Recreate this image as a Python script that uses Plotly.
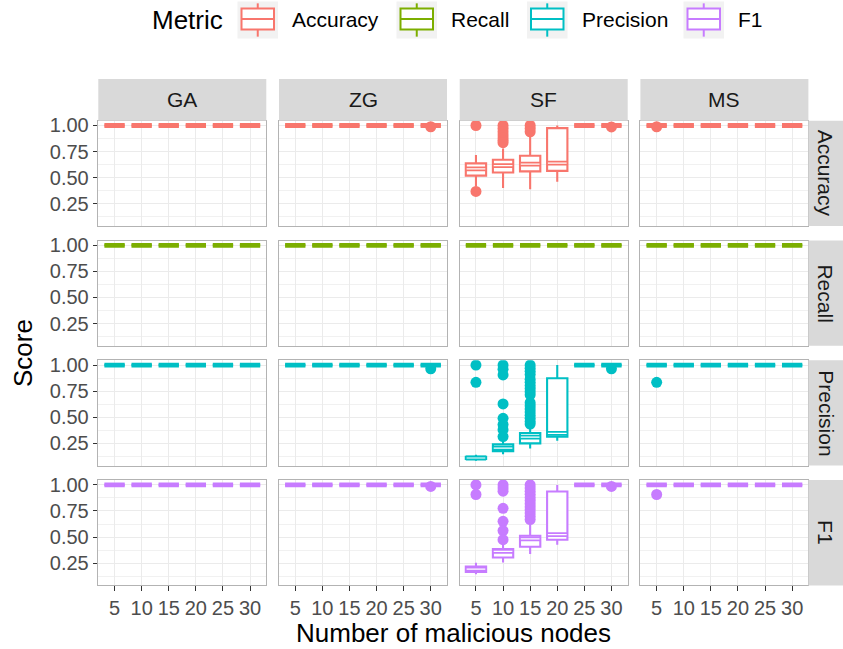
import plotly.graph_objects as go
from plotly.subplots import make_subplots

W, H = 843, 649

# ---------------------------------------------------------------- data
nodes = [5, 10, 15, 20, 25, 30]
node_labels = [str(n) for n in nodes]
methods = ["GA", "ZG", "SF", "MS"]
metrics = ["Accuracy", "Recall", "Precision", "F1"]
metric_colors = ["#F8766D", "#7CAE00", "#00BFC4", "#C77CFF"]
y_tickvals = [0.25, 0.50, 0.75, 1.00]
y_ticktext = ["0.25", "0.50", "0.75", "1.00"]
y_minor = [0.125, 0.375, 0.625, 0.875]

perfect = [1.0, 1.0, 1.0, 1.0, 1.0, 1.0]

# SF box statistics, one value per node count
sf_acc_q1 = [0.520, 0.550, 0.560, 0.565, 1.0, 1.0]
sf_acc_med = [0.585, 0.615, 0.630, 0.640, 1.0, 1.0]
sf_acc_q3 = [0.637, 0.672, 0.710, 0.975, 1.0, 1.0]
sf_acc_lo = [0.415, 0.400, 0.390, 0.460, 1.0, 1.0]
sf_acc_hi = [0.718, 0.780, 0.900, 1.000, 1.0, 1.0]

sf_prec_q1 = [0.100, 0.176, 0.250, 0.315, 1.0, 1.0]
sf_prec_med = [0.110, 0.205, 0.310, 0.345, 1.0, 1.0]
sf_prec_q3 = [0.122, 0.240, 0.350, 0.874, 1.0, 1.0]
sf_prec_lo = [0.083, 0.147, 0.200, 0.275, 1.0, 1.0]
sf_prec_hi = [0.140, 0.285, 0.420, 1.000, 1.0, 1.0]

sf_f1_q1 = [0.167, 0.305, 0.408, 0.475, 1.0, 1.0]
sf_f1_med = [0.193, 0.363, 0.482, 0.523, 1.0, 1.0]
sf_f1_q3 = [0.218, 0.386, 0.513, 0.937, 1.0, 1.0]
sf_f1_lo = [0.145, 0.257, 0.337, 0.427, 1.0, 1.0]
sf_f1_hi = [0.254, 0.427, 0.641, 1.000, 1.0, 1.0]

# outliers as (node count, score)
zg_acc_out = [(30, 0.988)]
zg_prec_out = [(30, 0.965)]
zg_f1_out = [(30, 0.985)]

ms_acc_out = [(5, 0.988)]
ms_prec_out = [(5, 0.835)]
ms_f1_out = [(5, 0.908)]

sf_acc_out = [(5, 1.0), (5, 0.368),
              (10, 1.0), (10, 0.97), (10, 0.94), (10, 0.91), (10, 0.88),
              (10, 0.855), (10, 0.835),
              (15, 1.0), (15, 0.97), (15, 0.94),
              (30, 0.986)]
sf_prec_out = [(5, 1.0), (5, 0.835),
               (10, 1.0), (10, 0.96), (10, 0.906), (10, 0.628), (10, 0.49),
               (10, 0.43), (10, 0.381), (10, 0.315),
               (15, 1.0), (15, 0.97), (15, 0.94), (15, 0.91), (15, 0.865),
               (15, 0.835), (15, 0.805), (15, 0.775), (15, 0.745), (15, 0.715),
               (15, 0.64), (15, 0.61), (15, 0.58), (15, 0.55), (15, 0.52),
               (15, 0.49), (15, 0.46), (15, 0.435),
               (30, 0.965)]
sf_f1_out = [(5, 1.0), (5, 0.908),
             (10, 1.0), (10, 0.97), (10, 0.94), (10, 0.776), (10, 0.651),
             (10, 0.562), (10, 0.475),
             (15, 1.0), (15, 0.97), (15, 0.94), (15, 0.91), (15, 0.88),
             (15, 0.85), (15, 0.82), (15, 0.79), (15, 0.76), (15, 0.73),
             (15, 0.70), (15, 0.668),
             (30, 0.985)]


def box_stats(method, metric):
    if method == "SF" and metric == "Accuracy":
        return sf_acc_q1, sf_acc_med, sf_acc_q3, sf_acc_lo, sf_acc_hi
    if method == "SF" and metric == "Precision":
        return sf_prec_q1, sf_prec_med, sf_prec_q3, sf_prec_lo, sf_prec_hi
    if method == "SF" and metric == "F1":
        return sf_f1_q1, sf_f1_med, sf_f1_q3, sf_f1_lo, sf_f1_hi
    return perfect, perfect, perfect, perfect, perfect


def outliers(method, metric):
    table = {
        ("ZG", "Accuracy"): zg_acc_out, ("ZG", "Precision"): zg_prec_out,
        ("ZG", "F1"): zg_f1_out,
        ("MS", "Accuracy"): ms_acc_out, ("MS", "Precision"): ms_prec_out,
        ("MS", "F1"): ms_f1_out,
        ("SF", "Accuracy"): sf_acc_out, ("SF", "Precision"): sf_prec_out,
        ("SF", "F1"): sf_f1_out,
    }
    return table.get((method, metric), [])


# ---------------------------------------------------------------- geometry (pixels)
panel_left0, panel_w, panel_dx = 98.3, 168.0, 180.7
panel_top0, panel_h, panel_dy = 120.7, 105.3, 119.8
strip_top = 79.0
strip_right_w = 34.6
box_width = 0.75

FONT = "Liberation Sans, Arial, Helvetica, sans-serif"
tick_size = 20
strip_size = 21
big = 26


def fx(px):
    return px / W


def fy(py):
    return 1 - py / H


fig = make_subplots(rows=4, cols=4)

pos = list(range(1, len(nodes) + 1))

# y range shared by all panels, padded by 5% of the data span
all_vals = []
for m in methods:
    for k in metrics:
        st = box_stats(m, k)
        all_vals += st[3] + st[4]
        all_vals += [v for _, v in outliers(m, k)]
dmin, dmax = min(all_vals), max(all_vals)
pad = 0.05 * (dmax - dmin)
y_range = [dmin - pad, dmax + pad]

# boxes
for r, metric in enumerate(metrics):
    color = metric_colors[r]
    for c, method in enumerate(methods):
        q1, med, q3, lo, hi = box_stats(method, metric)
        fig.add_trace(go.Box(
            x=pos, q1=q1, median=med, q3=q3, lowerfence=lo, upperfence=hi,
            width=box_width, whiskerwidth=0, boxpoints=False,
            fillcolor="white", line=dict(color=color, width=2.1),
            showlegend=False, hoverinfo="skip",
        ), row=r + 1, col=c + 1)

# thick median bars drawn over the boxes
for r, metric in enumerate(metrics):
    color = metric_colors[r]
    for c, method in enumerate(methods):
        q1, med, q3, lo, hi = box_stats(method, metric)
        xs, ys, wx, wy = [], [], [], []
        for p, a, m, b in zip(pos, q1, med, q3):
            xs += [p - box_width / 2, p + box_width / 2, None]
            ys += [m, m, None]
            if b > a:
                wx += [p - box_width / 2 + 0.03, p + box_width / 2 - 0.03, None]
                wy += [m, m, None]
        fig.add_trace(go.Scatter(
            x=xs, y=ys, mode="lines", line=dict(color=color, width=4.8),
            showlegend=False, hoverinfo="skip"), row=r + 1, col=c + 1)
        if wx:
            fig.add_trace(go.Scatter(
                x=wx, y=wy, mode="lines", line=dict(color="white", width=1.2),
                showlegend=False, hoverinfo="skip"), row=r + 1, col=c + 1)

# outlier points
for r, metric in enumerate(metrics):
    color = metric_colors[r]
    for c, method in enumerate(methods):
        pts = outliers(method, metric)
        if not pts:
            continue
        fig.add_trace(go.Scatter(
            x=[nodes.index(n) + 1 for n, _ in pts], y=[v for _, v in pts],
            mode="markers", marker=dict(color=color, size=11, line=dict(width=0)),
            showlegend=False, hoverinfo="skip"), row=r + 1, col=c + 1)

# axes
for r in range(4):
    for c in range(4):
        n = r * 4 + c + 1
        xa = "xaxis" if n == 1 else f"xaxis{n}"
        ya = "yaxis" if n == 1 else f"yaxis{n}"
        x0 = panel_left0 + c * panel_dx
        y0 = panel_top0 + r * panel_dy
        fig.layout[xa].update(
            domain=[fx(x0), fx(x0 + panel_w)],
            range=[0.4, len(nodes) + 0.6],
            tickvals=pos, ticktext=node_labels,
            showticklabels=(r == 3), ticks="outside" if r == 3 else "",
            ticklen=4.5, tickwidth=1.1, tickcolor="#333333",
            tickfont=dict(family=FONT, size=tick_size, color="#4d4d4d"),
            showgrid=True, gridcolor="#ebebeb", gridwidth=1.1, zeroline=False,
            showline=True, mirror=True, linecolor="#b3b3b3", linewidth=1.1,
            automargin=False,
        )
        fig.layout[ya].update(
            domain=[fy(y0 + panel_h), fy(y0)],
            range=y_range,
            tickvals=y_tickvals, ticktext=y_ticktext,
            showticklabels=(c == 0), ticks="outside" if c == 0 else "",
            ticklen=4.5, tickwidth=1.1, tickcolor="#333333",
            tickfont=dict(family=FONT, size=tick_size, color="#4d4d4d"),
            showgrid=True, gridcolor="#ebebeb", gridwidth=1.1, zeroline=False,
            showline=True, mirror=True, linecolor="#b3b3b3", linewidth=1.1,
            minor=dict(tickvals=y_minor, showgrid=True, gridcolor="#f1f1f1",
                       gridwidth=0.7, ticks=""),
            automargin=False,
        )

shapes = []
annotations = []

# column strips
for c, method in enumerate(methods):
    x0 = panel_left0 + c * panel_dx
    shapes.append(dict(type="rect", xref="paper", yref="paper",
                       x0=fx(x0), x1=fx(x0 + panel_w), y0=fy(panel_top0), y1=fy(strip_top),
                       fillcolor="#d9d9d9", line=dict(width=0)))
    annotations.append(dict(text=method, xref="paper", yref="paper",
                            x=fx(x0 + panel_w / 2), y=fy((strip_top + panel_top0) / 2),
                            showarrow=False, xanchor="center", yanchor="middle",
                            font=dict(family=FONT, size=strip_size, color="#1a1a1a")))

# row strips
right_edge = panel_left0 + 3 * panel_dx + panel_w
for r, metric in enumerate(metrics):
    y0 = panel_top0 + r * panel_dy
    shapes.append(dict(type="rect", xref="paper", yref="paper",
                       x0=fx(right_edge), x1=fx(right_edge + strip_right_w),
                       y0=fy(y0 + panel_h), y1=fy(y0),
                       fillcolor="#d9d9d9", line=dict(width=0)))
    annotations.append(dict(text=metric, xref="paper", yref="paper",
                            x=fx(right_edge + strip_right_w / 2), y=fy(y0 + panel_h / 2),
                            showarrow=False, textangle=90, xanchor="center", yanchor="middle",
                            font=dict(family=FONT, size=strip_size, color="#1a1a1a")))

# axis titles
annotations.append(dict(text="Score", xref="paper", yref="paper",
                        x=fx(23), y=fy(panel_top0 + (3 * panel_dy + panel_h) / 2),
                        showarrow=False, textangle=-90, xanchor="center", yanchor="middle",
                        font=dict(family=FONT, size=big, color="black")))
annotations.append(dict(text="Number of malicious nodes", xref="paper", yref="paper",
                        x=fx(panel_left0 + (3 * panel_dx + panel_w) / 2), y=fy(633),
                        showarrow=False, xanchor="center", yanchor="middle",
                        font=dict(family=FONT, size=big, color="black")))

# legend drawn across the top
leg_top, leg_bot = 1.5, 38.5
key_w = 40.5
key_lefts = [237.5, 396.5, 527.0, 683.5]
annotations.append(dict(text="Metric", xref="paper", yref="paper",
                        x=fx(150), y=fy((leg_top + leg_bot) / 2),
                        showarrow=False, xanchor="left", yanchor="middle",
                        font=dict(family=FONT, size=big, color="black")))
kh = leg_bot - leg_top
for kl, label, color in zip(key_lefts, metrics, metric_colors):
    cx = kl + key_w / 2
    shapes.append(dict(type="rect", xref="paper", yref="paper",
                       x0=fx(kl), x1=fx(kl + key_w), y0=fy(leg_bot), y1=fy(leg_top),
                       fillcolor="#f2f2f2", line=dict(width=0)))
    shapes.append(dict(type="line", xref="paper", yref="paper",
                       x0=fx(cx), x1=fx(cx), y0=fy(leg_top + 0.05 * kh), y1=fy(leg_top + 0.95 * kh),
                       line=dict(color=color, width=2)))
    shapes.append(dict(type="rect", xref="paper", yref="paper",
                       x0=fx(kl + 4), x1=fx(kl + key_w - 4),
                       y0=fy(leg_top + 0.76 * kh), y1=fy(leg_top + 0.19 * kh),
                       fillcolor="white", line=dict(color=color, width=2)))
    shapes.append(dict(type="line", xref="paper", yref="paper",
                       x0=fx(kl + 4), x1=fx(kl + key_w - 4),
                       y0=fy(leg_top + 0.475 * kh), y1=fy(leg_top + 0.475 * kh),
                       line=dict(color=color, width=2)))
    annotations.append(dict(text=label, xref="paper", yref="paper",
                            x=fx(kl + key_w + 12), y=fy((leg_top + leg_bot) / 2),
                            showarrow=False, xanchor="left", yanchor="middle",
                            font=dict(family=FONT, size=strip_size, color="black")))

fig.update_layout(
    width=W, height=H,
    margin=dict(l=0, r=0, t=0, b=0, pad=0, autoexpand=False),
    paper_bgcolor="white", plot_bgcolor="white",
    showlegend=False,
    shapes=shapes, annotations=annotations,
    font=dict(family=FONT),
)

fig.write_html("out.html")
